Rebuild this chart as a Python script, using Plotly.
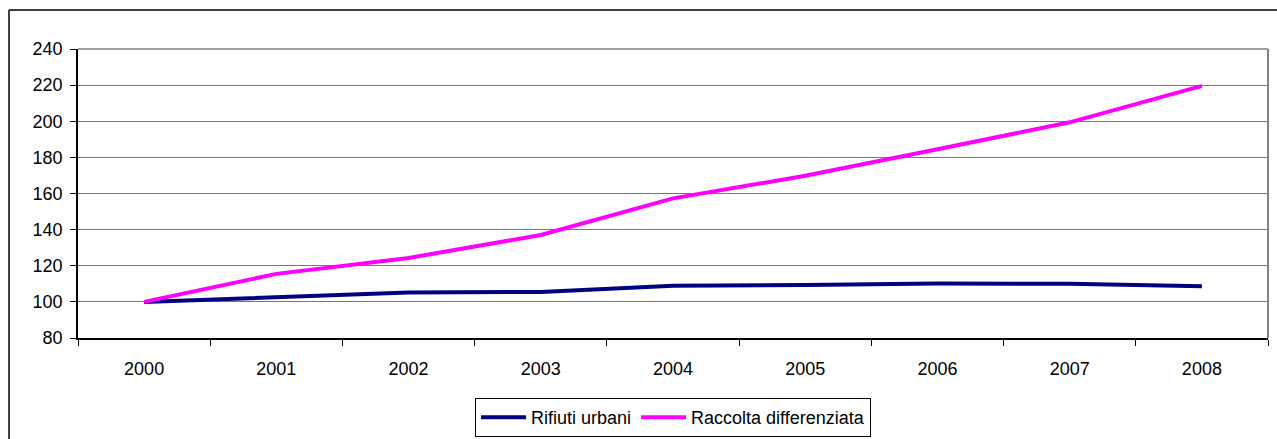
import plotly.graph_objects as go

years = ["2000", "2001", "2002", "2003", "2004", "2005", "2006", "2007", "2008"]
rifiuti_urbani = [100, 102.6, 105.2, 105.5, 108.9, 109.3, 110.2, 110.0, 108.7]
raccolta_differenziata = [100, 115.5, 124.3, 137.0, 157.3, 169.8, 184.5, 199.4, 219.6]
y_ticks = [80, 100, 120, 140, 160, 180, 200, 220, 240]

FONT = "Liberation Sans, Arial, sans-serif"

fig = go.Figure()
fig.add_trace(go.Scatter(x=years, y=rifiuti_urbani, mode="lines", name="Rifiuti urbani",
                         line=dict(color="#000080", width=4)))
fig.add_trace(go.Scatter(x=years, y=raccolta_differenziata, mode="lines", name="Raccolta differenziata",
                         line=dict(color="#FF00FF", width=4)))

W, H = 1277, 439
L, R, T, B = 78, 9, 49, 101
pw, ph = W - L - R, H - T - B

def px_x(x):
    return (x - L) / pw

def px_y(y):
    return (H - B - y) / ph

fig.update_layout(
    width=W, height=H,
    margin=dict(l=L, r=R, t=T, b=B, autoexpand=False),
    paper_bgcolor="white", plot_bgcolor="white",
    font=dict(family=FONT, size=18, color="black"),
    showlegend=True,
    legend=dict(orientation="h", x=0.5, xanchor="center", y=px_y(437), yanchor="bottom",
                bordercolor="black", borderwidth=1, font=dict(size=18),
                itemwidth=45, tracegroupgap=0),
    xaxis=dict(type="category", tickson="boundaries", ticks="outside", ticklen=6,
               tickcolor="black", showline=True, linecolor="black", linewidth=1.5,
               showgrid=False, tickfont=dict(size=18), ticklabelstandoff=14,
               range=[-0.5, 8.5]),
    yaxis=dict(range=[80, 240], tickvals=y_ticks, ticks="outside", ticklen=6,
               tickcolor="black", showline=True, linecolor="black", linewidth=1.5,
               showgrid=True, gridcolor="#777777", gridwidth=1, zeroline=False,
               tickfont=dict(size=18), ticklabelstandoff=4),
    shapes=[
        dict(type="line", xref="paper", yref="paper", x0=1, x1=1, y0=0, y1=1,
             line=dict(color="#808080", width=2)),
        dict(type="line", xref="paper", yref="paper", x0=0, x1=1, y0=1, y1=1,
             line=dict(color="#808080", width=1.5)),
        dict(type="line", xref="paper", yref="paper", x0=px_x(9), x1=px_x(1280),
             y0=px_y(10), y1=px_y(10), line=dict(color="black", width=1.5)),
        dict(type="line", xref="paper", yref="paper", x0=px_x(9), x1=px_x(9),
             y0=px_y(10), y1=px_y(442), line=dict(color="black", width=1.5)),
    ],
)

fig.write_html("out.html")
